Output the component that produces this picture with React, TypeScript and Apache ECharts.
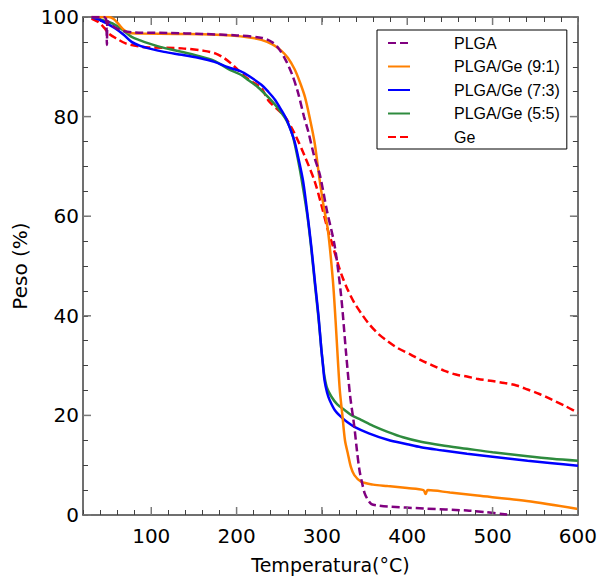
import React, { useEffect, useRef } from "react";
import * as echarts from "echarts";

const seriesNames = ["PLGA", "PLGA/Ge (9:1)", "PLGA/Ge (7:3)", "PLGA/Ge (5:5)", "Ge"];

const plga: number[][] = [
  [30, 100], [44, 100], [47, 99.6], [48, 94.4], [49, 99.2], [55, 98.2], [65, 97.3], [80, 96.9],
  [120, 96.8], [160, 96.6], [200, 96.3], [230, 95.8], [242, 94.9], [250, 93.5], [258, 91.2],
  [265, 88.5], [272, 84.8], [279, 80], [284, 77], [291, 72], [297.6, 68.3], [306, 61], [315, 54],
  [322.5, 44], [328.3, 32.5], [333, 24], [338, 17.7], [341, 13], [344, 9], [347, 6.5], [350, 4.4],
  [354, 3], [358, 2.2], [366, 1.9], [377, 1.7], [420, 1.3], [470, 0.9], [490, 0.6], [517, 0.1],
];

const plga91: number[][] = [
  [30, 100], [50, 100], [56, 99.6], [62, 98.5], [68, 97.4], [75, 96.8], [90, 96.7], [130, 96.6],
  [170, 96.5], [194, 96.3], [215, 95.9], [229, 95.4], [242, 94.5], [252, 93.3], [260, 91.8],
  [268, 89.5], [274, 87], [280, 84], [286, 79.5], [291.5, 74.7], [297.3, 67.3], [302, 62],
  [307, 57.2], [312.8, 47.2], [316, 39], [318.7, 31.1], [321, 25], [324, 20], [327, 15],
  [330.3, 12.4], [334, 9.6], [338, 8], [345.8, 6.7], [360, 6.1], [377, 5.8], [400, 5.4],
  [419, 5.0], [421.5, 4.2], [424, 5.0], [450, 4.5], [482, 3.9], [540, 2.8], [600, 1.2],
];

const plga73: number[][] = [
  [30, 100], [40, 99.4], [50, 98.5], [58, 97.7], [68, 96.4], [77, 95], [87, 94.2], [97, 93.7],
  [115, 93], [136, 92.4], [155, 91.8], [174, 91], [190, 89.9], [205, 89.1], [214, 88.2],
  [229, 86.4], [237, 85], [245, 83.4], [252.5, 81.3], [258, 79.6], [264, 77], [268, 75],
  [272, 72], [278, 67], [283, 60.5], [287.5, 54], [292, 46.5], [296, 40], [299.2, 33.5],
  [301, 30.5], [303, 27.1], [306, 24.6], [309, 23.1], [315, 21.1], [322.5, 19.7], [330, 18.6],
  [338, 17.7], [355, 16.4], [377, 15.1], [400, 14.2], [416, 13.6], [440, 13.0], [470, 12.3],
  [500, 11.7], [541, 10.9], [570, 10.4], [600, 9.9],
];

const plga55: number[][] = [
  [30, 100], [40, 99.5], [50, 99], [58, 98.4], [68, 97.2], [77, 96], [87, 95.3], [97, 94.7],
  [115, 93.8], [136, 93], [155, 92.2], [174, 91.2], [190, 89.6], [205, 88.4], [214, 87.3],
  [225, 85.9], [237, 83.9], [247, 82], [256.5, 79.8], [262, 78], [266, 76], [270, 73],
  [274, 69.5], [278, 65.5], [283, 60], [287.5, 53.5], [292, 46], [296, 39.5], [299.2, 33.5],
  [301, 30.5], [303, 27.8], [306, 25.5], [311, 23.8], [318, 22.2], [326.5, 21.1], [335, 20],
  [345.8, 19.1], [360, 17.9], [377, 16.7], [395, 15.6], [416, 14.7], [440, 14], [470, 13.3],
  [500, 12.6], [541, 11.8], [570, 11.3], [600, 10.9],
];

const ge: number[][] = [
  [30, 99.7], [38, 99], [45, 97.8], [50, 96.7], [60, 95.6], [70, 94.7], [85, 94.1], [97, 93.9],
  [136, 93.7], [162, 93.2], [175, 92.7], [185, 91.8], [194, 90.6], [202, 89.3], [210, 88],
  [220, 86.8], [229, 85.8], [237, 83.3], [247, 81.6], [256.5, 80], [268, 76.6], [280, 72],
  [291.5, 67], [299, 62.5], [307, 57.2], [312, 54.5], [318.7, 50.5], [324, 47.8], [330.3, 45.2],
  [338, 42.6], [346, 40.5], [355, 38.4], [365.3, 36.5], [377, 34.9], [389, 33.5], [404, 32.2],
  [416, 31.1], [430, 30], [443, 29], [457, 28.2], [470, 27.8], [483, 27.3], [500, 26.9],
  [514, 26.5], [528, 26], [541, 25.2], [555, 24.3], [569, 23.2], [585, 21.9], [600, 20.5],
];

const seriesData = [plga, plga91, plga73, plga55, ge];
const seriesColors = ["#800080", "#ff8000", "#0000ff", "#2e8b3e", "#ff0000"];
const seriesDashed = [true, false, false, false, true];

const xMin = 20;
const xMax = 600;
const yMin = 0;
const yMax = 100;
const xMinorTicks = [20, 40, 60, 80, 100, 120, 140, 160, 180, 200, 220, 240, 260, 280, 300, 320, 340, 360, 380, 400, 420, 440, 460, 480, 500, 520, 540, 560, 580, 600];
const xMajorTicks = [100, 200, 300, 400, 500, 600];
const yMinorTicks = [0, 5, 10, 15, 20, 25, 30, 35, 40, 45, 50, 55, 60, 65, 70, 75, 80, 85, 90, 95, 100];
const yMajorTicks = [0, 20, 40, 60, 80, 100];

export default function App() {
  const ref = useRef<HTMLDivElement>(null);
  useEffect(() => {
    if (!ref.current) return;
    const chart = echarts.init(ref.current, null, { renderer: "svg" });
    const axisColor = "#404040";
    const tickFont = { fontFamily: "DejaVu Sans", fontSize: 20, color: "#000" };
    const minorTickStyle = { color: "#404040", width: 1 };
    const majorTickStyle = { stroke: "#7a7a7a", lineWidth: 1.5 };
    const majorLen = 8;
    const baseX = {
      type: "value" as const,
      min: xMin,
      max: xMax,
      interval: 20,
      splitLine: { show: false },
      axisLine: { show: true, onZero: false, lineStyle: { color: axisColor, width: 1.5 } },
      axisTick: { show: true, inside: true, length: 5, customValues: xMinorTicks, lineStyle: minorTickStyle },
    };
    const baseY = {
      type: "value" as const,
      min: yMin,
      max: yMax,
      interval: 20,
      splitLine: { show: false },
      axisLine: { show: true, onZero: false, lineStyle: { color: axisColor, width: 1.5 } },
      axisTick: { show: true, inside: true, length: 5, customValues: yMinorTicks, lineStyle: minorTickStyle },
    };
    chart.setOption({
      animation: false,
      backgroundColor: "#fff",
      grid: { left: 83, right: 19, top: 17, bottom: 66, containLabel: false },
      legend: {
        orient: "vertical",
        left: 377,
        top: 30,
        data: seriesNames,
        itemWidth: 22,
        itemHeight: 14,
        itemGap: 7.5,
        padding: [5, 7, 4, 10],
        backgroundColor: "#fff",
        borderColor: "#000",
        borderWidth: 1,
        borderRadius: 0,
        itemStyle: { opacity: 0, borderWidth: 0 },
        textStyle: {
          fontFamily: "Liberation Sans",
          fontSize: 16,
          lineHeight: 16,
          color: "#000",
          padding: [0, 0, 0, 39],
        },
      },
      xAxis: [
        {
          ...baseX,
          position: "bottom",
          name: "Temperatura(°C)",
          nameLocation: "middle",
          nameGap: 40,
          nameTextStyle: { fontFamily: "DejaVu Sans", fontSize: 19, color: "#000" },
          axisLabel: { ...tickFont, margin: 11, customValues: xMajorTicks },
        },
        { ...baseX, position: "top", axisLabel: { show: false } },
      ],
      yAxis: [
        {
          ...baseY,
          position: "left",
          name: "Peso (%)",
          nameLocation: "middle",
          nameGap: 50,
          nameTextStyle: { fontFamily: "DejaVu Sans", fontSize: 20, color: "#000" },
          axisLabel: { ...tickFont, margin: 4, customValues: yMajorTicks },
        },
        { ...baseY, position: "right", axisLabel: { show: false } },
      ],
      series: [
        ...seriesNames.map((name, i) => ({
          name,
          type: "line",
          data: seriesData[i],
          showSymbol: false,
          symbol: "none",
          smooth: 0.3,
          color: seriesColors[i],
          lineStyle: {
            color: seriesColors[i],
            width: 2.5,
            type: seriesDashed[i] ? [8, 4] : "solid",
          },
          z: 5 - i,
        })),
        {
          type: "custom",
          silent: true,
          z: 10,
          data: xMajorTicks.map((v) => [v, yMin]),
          renderItem: (_p: any, api: any) => {
            const b = api.coord([api.value(0), yMin]);
            const t = api.coord([api.value(0), yMax]);
            return {
              type: "group",
              children: [
                { type: "line", shape: { x1: b[0], y1: b[1], x2: b[0], y2: b[1] - majorLen }, style: majorTickStyle },
                { type: "line", shape: { x1: t[0], y1: t[1], x2: t[0], y2: t[1] + majorLen }, style: majorTickStyle },
              ],
            };
          },
        },
        {
          type: "custom",
          silent: true,
          z: 10,
          data: yMajorTicks.map((v) => [xMin, v]),
          renderItem: (_p: any, api: any) => {
            const l = api.coord([xMin, api.value(1)]);
            const r = api.coord([xMax, api.value(1)]);
            return {
              type: "group",
              children: [
                { type: "line", shape: { x1: l[0], y1: l[1], x2: l[0] + majorLen, y2: l[1] }, style: majorTickStyle },
                { type: "line", shape: { x1: r[0], y1: r[1], x2: r[0] - majorLen, y2: r[1] }, style: majorTickStyle },
              ],
            };
          },
        },
      ],
    });
    return () => chart.dispose();
  }, []);
  return (
    <div
      ref={ref}
      style={{ position: "fixed", left: 0, top: 0, width: 600, height: 581 }}
    />
  );
}
